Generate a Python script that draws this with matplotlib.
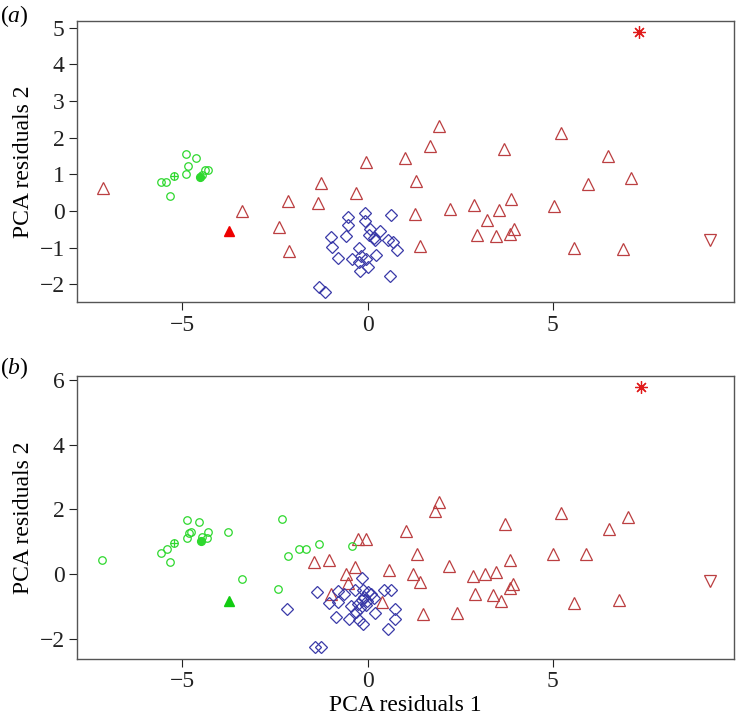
import matplotlib
matplotlib.use('Agg')
import matplotlib.pyplot as plt

plt.rcParams['font.family'] = ['Liberation Serif', 'DejaVu Serif']
plt.rcParams['mathtext.fontset'] = 'custom'
plt.rcParams['mathtext.rm'] = 'Liberation Serif'
plt.rcParams['mathtext.it'] = 'Liberation Serif:italic'

# ---- panel (a) data ----
a_circ_x = [-4.91, -4.62, -4.84, -4.91, -5.58, -5.43, -5.34, -4.39, -4.32, -4.47]
a_circ_y = [1.56, 1.46, 1.24, 1.00, 0.78, 0.78, 0.42, 1.11, 1.12, 0.99]
a_cross_x = [-5.24]
a_cross_y = [0.95]
a_fcirc_x = [-4.52]
a_fcirc_y = [0.94]
a_ftri_x = [-3.73]
a_ftri_y = [-0.54]
a_tri_x = [-7.15, -3.38, -2.40, -2.15, -2.11, -1.25, -1.34, -0.30, -0.03, 1.92, 1.68,
           1.02, 1.31, 1.27, 1.41, 2.22, 2.87, 3.56, 3.88, 3.24, 2.95, 3.47, 3.85, 3.95,
           3.68, 5.22, 6.49, 5.95, 7.11, 5.05, 5.59, 6.89]
a_tri_y = [0.63, -0.01, -0.44, 0.27, -1.10, 0.76, 0.21, 0.48, 1.34, 2.32, 1.77,
           1.44, 0.82, -0.07, -0.96, 0.05, 0.16, 0.02, 0.33, -0.24, -0.65, -0.67, -0.63, -0.49,
           1.69, 2.12, 1.51, 0.73, 0.90, 0.13, -1.02, -1.04]
a_inv_x = [9.26]
a_inv_y = [-0.80]
a_star_x = [7.34]
a_star_y = [4.89]
a_dia_x = [-0.52, -0.07, -0.07, 0.63, -0.54, -0.59, -0.99, -0.97, -0.81, 0.05, 0.21,
           0.33, 0.54, 0.69, 0.81, 0.22, -0.23, -0.42, -0.18, -0.05, -0.23, 0.00, -0.21,
           0.60, -1.31, -1.15, 0.08, 0.18]
a_dia_y = [-0.17, -0.05, -0.26, -0.10, -0.37, -0.67, -0.71, -0.99, -1.28, -0.65, -0.78,
           -0.55, -0.80, -0.83, -1.07, -1.19, -1.01, -1.30, -1.22, -1.31, -1.40, -1.52, -1.63,
           -1.78, -2.07, -2.22, -0.50, -0.73]

# ---- panel (b) data ----
b_circ_x = [-7.16, -5.57, -5.41, -5.33, -4.88, -4.88, -4.82, -4.78, -4.55, -4.34, -4.31,
            -4.46, -3.78, -3.39, -2.41, -2.32, -2.15, -1.86, -1.65, -1.31, -0.43]
b_circ_y = [0.43, 0.66, 0.76, 0.36, 1.67, 1.10, 1.26, 1.29, 1.62, 1.12, 1.29,
            1.15, 1.31, -0.15, -0.47, 1.71, 0.56, 0.76, 0.76, 0.93, 0.87]
b_cross_x = [-5.23]
b_cross_y = [0.95]
b_fcirc_x = [-4.51]
b_fcirc_y = [1.03]
b_ftri_x = [-3.74]
b_ftri_y = [-0.83]
b_tri_x = [-1.44, -1.05, -0.25, -0.05, -0.34, -0.57, -0.54, -0.99, 1.92, 1.83, 1.04,
           1.35, 0.59, 1.24, 1.41, 0.39, 1.51, 2.20, 2.43, 2.84, 3.18, 3.47, 2.90, 3.40,
           3.60, 3.85, 3.94, 3.86, 3.71, 5.23, 5.02, 5.89, 6.52, 7.03, 5.58, 6.80]
b_tri_y = [0.36, 0.43, 1.07, 1.07, 0.21, 0.00, -0.29, -0.62, 2.22, 1.96, 1.34,
           0.61, 0.12, 0.00, -0.24, -0.88, -1.25, 0.25, -1.22, -0.05, -0.01, 0.05, -0.62, -0.65,
           -0.83, -0.44, -0.30, 0.43, 1.54, 1.90, 0.63, 0.61, 1.40, 1.76, -0.90, -0.80]
b_inv_x = [9.26]
b_inv_y = [-0.22]
b_star_x = [7.39]
b_star_y = [5.79]
b_dia_x = [-2.18, -1.37, -1.05, -0.79, -0.79, -0.63, -0.86, -0.50, -0.45, -0.34, -0.14,
           -0.11, -0.25, -0.16, -0.05, -0.32, -0.23, -0.11, 0.02, 0.09, 0.18, 0.20, 0.45,
           0.63, 0.75, 0.75, 0.55, -1.42, -1.26, -0.10, -0.02, -0.20]
b_dia_y = [-1.09, -0.57, -0.89, -0.52, -0.86, -0.63, -1.32, -1.40, -0.99, -0.49, -0.11,
           -0.49, -0.93, -0.80, -0.96, -1.17, -1.42, -1.55, -0.55, -0.63, -0.75, -1.20, -0.49,
           -0.49, -1.09, -1.40, -1.71, -2.25, -2.25, -0.70, -0.85, -1.05]

x_ticks = [-5, 0, 5]
a_yticks = [-2, -1, 0, 1, 2, 3, 4, 5]
b_yticks = [-2, 0, 2, 4, 6]

GREEN = '#2ed82e'
RED = '#bb3f41'
BLUE = '#3a3aa8'
STAR = '#e01a1a'


def lab(v):
    return str(v).replace('-', '\u2212')


def draw_panel(ax, d, ftri_col, ylim, yticks):
    lw = 0.9
    ax.plot(d['tri'][0], d['tri'][1], '^', ms=8.5, mfc='none', mec=RED, mew=lw, ls='none')
    ax.plot(d['dia'][0], d['dia'][1], 'D', ms=6.4, mfc='none', mec=BLUE, mew=lw, ls='none')
    ax.plot(d['circ'][0], d['circ'][1], 'o', ms=5.4, mfc='none', mec=GREEN, mew=lw, ls='none')
    ax.plot(d['cross'][0], d['cross'][1], 'o', ms=5.4, mfc='none', mec=GREEN, mew=lw, ls='none')
    ax.plot(d['cross'][0], d['cross'][1], '+', ms=5.4, mec=GREEN, mew=lw, ls='none')
    ax.plot(d['fcirc'][0], d['fcirc'][1], 'o', ms=5.6, mfc=GREEN, mec=GREEN, ls='none')
    ax.plot(d['ftri'][0], d['ftri'][1], '^', ms=6.5, mfc=ftri_col, mec=ftri_col, ls='none')
    ax.plot(d['inv'][0], d['inv'][1], 'v', ms=8.5, mfc='none', mec=RED, mew=lw, ls='none')
    ax.plot(d['star'][0], d['star'][1], ls='none', marker=(8, 2, 0), ms=9,
            mec=STAR, mew=lw)
    ax.set_xlim(-7.84, 9.9)
    ax.set_ylim(*ylim)
    ax.set_xticks(x_ticks)
    ax.set_xticklabels([lab(v) for v in x_ticks])
    ax.set_yticks(yticks)
    ax.set_yticklabels([lab(v) for v in yticks])
    ax.tick_params(labelsize=17, length=6, width=0.8, pad=3, colors='#222222')
    for s in ax.spines.values():
        s.set_color('#555555')
        s.set_linewidth(1.0)
    ax.set_ylabel('PCA residuals 2', fontsize=17, labelpad=4)


fig = plt.figure(figsize=(7.38, 7.25), dpi=100)
ax_a = fig.add_axes([0.1047, 0.5834, 0.8899, 0.388])
ax_b = fig.add_axes([0.1047, 0.0917, 0.8899, 0.389])

da = {'tri': (a_tri_x, a_tri_y), 'dia': (a_dia_x, a_dia_y), 'circ': (a_circ_x, a_circ_y),
      'cross': (a_cross_x, a_cross_y), 'fcirc': (a_fcirc_x, a_fcirc_y),
      'ftri': (a_ftri_x, a_ftri_y), 'inv': (a_inv_x, a_inv_y), 'star': (a_star_x, a_star_y)}
db = {'tri': (b_tri_x, b_tri_y), 'dia': (b_dia_x, b_dia_y), 'circ': (b_circ_x, b_circ_y),
      'cross': (b_cross_x, b_cross_y), 'fcirc': (b_fcirc_x, b_fcirc_y),
      'ftri': (b_ftri_x, b_ftri_y), 'inv': (b_inv_x, b_inv_y), 'star': (b_star_x, b_star_y)}

draw_panel(ax_a, da, '#ee0000', (-2.48, 5.19), a_yticks)
draw_panel(ax_b, db, '#11cc11', (-2.62, 6.12), b_yticks)
ax_b.set_xlabel('PCA residuals 1', fontsize=17, labelpad=2)

fig.text(0.0, 0.978, '($\\mathit{a}$)', fontsize=17, va='center', ha='left')
fig.text(0.0, 0.492, '($\\mathit{b}$)', fontsize=17, va='center', ha='left')

fig.savefig('out.png', dpi=100)
